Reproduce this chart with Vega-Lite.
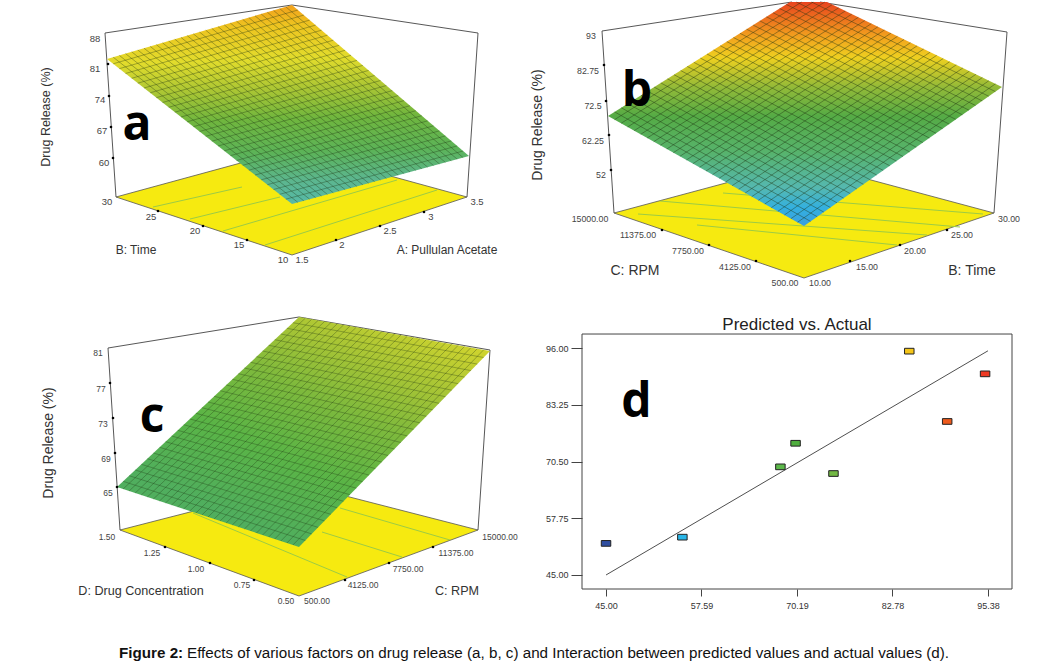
{
"$schema":"https://vega.github.io/schema/vega-lite/v6.json",
"padding":0,
"spacing":0,
"background":"white",
"config":{"view":{"stroke":null},"concat":{"spacing":0},"text":{"font":"Liberation Sans"},"title":{"font":"Liberation Sans"},"axis":{"labelFont":"Liberation Sans"}},
"vconcat":[
{"spacing":0,"hconcat":[
{"width":520,"height":313,"projection":{"type":"identity"},"layer":[
{"data":{"values":[{"type":"Feature","properties":{},"geometry":{"type":"Polygon","coordinates":[[[0,0],[520,0],[520,313],[0,313],[0,0]]]}}]},"mark":{"type":"geoshape","fill":"white","fillOpacity":0,"stroke":null}},
{"data":{"values":[{"type":"Feature","properties":{},"geometry":{"type":"Polygon","coordinates":[[[116,195],[292,147],[467,195],[292,253],[116,195]]]}}]},"mark":{"type":"geoshape","fill":"#f6ea10","stroke":"#555555","strokeWidth":0.8}},
{"data":{"values":[{"type":"Feature","properties":{},"geometry":{"type":"MultiLineString","coordinates":[[[153,205],[242,185]],[[190,217],[280,195]],[[223,229],[397,178]],[[265,243],[437,188]]]}}]},"mark":{"type":"geoshape","filled":false,"stroke":"#9ccb45","strokeWidth":1}},
{"data":{"values":[{"type":"Feature","properties":{},"geometry":{"type":"MultiLineString","coordinates":[[[116,195],[105,31],[292,3],[478,31],[467,195]]]}}]},"mark":{"type":"geoshape","filled":false,"stroke":"#444444","strokeWidth":0.9}},
{"data":{"values":[{"type":"Feature","properties":{},"geometry":{"type":"Polygon","coordinates":[[[107,57],[292,3],[469,154],[292,202],[107,57]]]}}]},"mark":{"type":"geoshape","stroke":null,"fill":{"gradient":"linear","x1":0.5,"y1":0,"x2":0.55,"y2":1,"stops":[{"offset":0,"color":"#f2a01c"},{"offset":0.1,"color":"#eec420"},{"offset":0.27,"color":"#e2dc2c"},{"offset":0.42,"color":"#abc634"},{"offset":0.57,"color":"#70b63e"},{"offset":0.74,"color":"#5cb358"},{"offset":0.88,"color":"#5cb68e"},{"offset":1,"color":"#56b9a8"}]}}},
{"data":{"values":[{"type":"Feature","properties":{"family":"time"},"geometry":{"type":"MultiLineString","coordinates":[[[113.2,61.8],[297.9,8]],[[119.3,66.7],[303.8,13.1]],[[125.5,71.5],[309.7,18.1]],[[131.7,76.3],[315.6,23.1]],[[137.8,81.2],[321.5,28.2]],[[144,86],[327.4,33.2]],[[150.2,90.8],[333.3,38.2]],[[156.3,95.7],[339.2,43.3]],[[162.5,100.5],[345.1,48.3]],[[168.7,105.3],[351,53.3]],[[174.8,110.2],[356.9,58.4]],[[181,115],[362.8,63.4]],[[187.2,119.8],[368.7,68.4]],[[193.3,124.7],[374.6,73.5]],[[199.5,129.5],[380.5,78.5]],[[205.7,134.3],[386.4,83.5]],[[211.8,139.2],[392.3,88.6]],[[218,144],[398.2,93.6]],[[224.2,148.8],[404.1,98.6]],[[230.3,153.7],[410,103.7]],[[236.5,158.5],[415.9,108.7]],[[242.7,163.3],[421.8,113.7]],[[248.8,168.2],[427.7,118.8]],[[255,173],[433.6,123.8]],[[261.2,177.8],[439.5,128.8]],[[267.3,182.7],[445.4,133.9]],[[273.5,187.5],[451.3,138.9]],[[279.7,192.3],[457.2,143.9]],[[285.8,197.2],[463.1,149]]]}},
{"type":"Feature","properties":{"family":"acetate"},"geometry":{"type":"MultiLineString","coordinates":[[[113.2,55.2],[297.9,200.4]],[[119.3,53.4],[303.8,198.8]],[[125.5,51.6],[309.7,197.2]],[[131.7,49.8],[315.6,195.6]],[[137.8,48],[321.5,194]],[[144,46.2],[327.4,192.4]],[[150.2,44.4],[333.3,190.8]],[[156.3,42.6],[339.2,189.2]],[[162.5,40.8],[345.1,187.6]],[[168.7,39],[351,186]],[[174.8,37.2],[356.9,184.4]],[[181,35.4],[362.8,182.8]],[[187.2,33.6],[368.7,181.2]],[[193.3,31.8],[374.6,179.6]],[[199.5,30],[380.5,178]],[[205.7,28.2],[386.4,176.4]],[[211.8,26.4],[392.3,174.8]],[[218,24.6],[398.2,173.2]],[[224.2,22.8],[404.1,171.6]],[[230.3,21],[410,170]],[[236.5,19.2],[415.9,168.4]],[[242.7,17.4],[421.8,166.8]],[[248.8,15.6],[427.7,165.2]],[[255,13.8],[433.6,163.6]],[[261.2,12],[439.5,162]],[[267.3,10.2],[445.4,160.4]],[[273.5,8.4],[451.3,158.8]],[[279.7,6.6],[457.2,157.2]],[[285.8,4.8],[463.1,155.6]]]}}]},"mark":{"type":"geoshape","filled":false,"stroke":"#1c3310","strokeOpacity":0.5,"strokeWidth":0.7}},
{"data":{"values":[{"lon":108,"lat":62},{"lon":109,"lat":94},{"lon":111,"lat":125},{"lon":113,"lat":156},{"lon":158,"lat":209},{"lon":203,"lat":224},{"lon":247,"lat":238},{"lon":424,"lat":210},{"lon":380,"lat":224},{"lon":336,"lat":238}]},"mark":{"type":"circle","color":"black","size":7,"opacity":1},"encoding":{"longitude":{"field":"lon","type":"quantitative"},"latitude":{"field":"lat","type":"quantitative"}}},
{"data":{"values":[{"lon":95,"lat":37,"t":"88"},{"lon":95,"lat":67,"t":"81"},{"lon":100,"lat":98,"t":"74"},{"lon":102,"lat":129,"t":"67"},{"lon":104,"lat":161,"t":"60"},{"lon":107,"lat":200,"t":"30"},{"lon":151,"lat":215,"t":"25"},{"lon":195,"lat":229,"t":"20"},{"lon":239,"lat":243,"t":"15"},{"lon":283,"lat":258,"t":"10"},{"lon":302,"lat":258,"t":"1.5"},{"lon":342,"lat":243,"t":"2"},{"lon":390,"lat":229,"t":"2.5"},{"lon":431,"lat":215,"t":"3"},{"lon":477,"lat":200,"t":"3.5"}]},"mark":{"type":"text","fontSize":9.5,"color":"#444444"},"encoding":{"longitude":{"field":"lon","type":"quantitative"},"latitude":{"field":"lat","type":"quantitative"},"text":{"field":"t"}}},
{"data":{"values":[{"lon":136,"lat":248,"t":"B: Time"},{"lon":447,"lat":248,"t":"A: Pullulan Acetate"}]},"mark":{"type":"text","fontSize":12,"color":"#333333"},"encoding":{"longitude":{"field":"lon","type":"quantitative"},"latitude":{"field":"lat","type":"quantitative"},"text":{"field":"t"}}},
{"data":{"values":[{"lon":46,"lat":115,"t":"Drug Release (%)"}]},"mark":{"type":"text","fontSize":12.5,"angle":270,"color":"#333333"},"encoding":{"longitude":{"field":"lon","type":"quantitative"},"latitude":{"field":"lat","type":"quantitative"},"text":{"field":"t"}}},
{"data":{"values":[{"lon":137,"lat":124,"t":"a"}]},"mark":{"type":"text","fontSize":48,"fontWeight":"bold","font":"Open Sans","color":"black"},"encoding":{"longitude":{"field":"lon","type":"quantitative"},"latitude":{"field":"lat","type":"quantitative"},"text":{"field":"t"}}}
]},
{"width":524,"height":313,"projection":{"type":"identity"},"layer":[
{"data":{"values":[{"type":"Feature","properties":{},"geometry":{"type":"Polygon","coordinates":[[[520,0],[1044,0],[1044,313],[520,313],[520,0]]]}}]},"mark":{"type":"geoshape","fill":"white","fillOpacity":0,"stroke":null}},
{"data":{"values":[{"type":"Feature","properties":{},"geometry":{"type":"Polygon","coordinates":[[[614,211],[804,160],[994,211],[804,276],[614,211]]]}}]},"mark":{"type":"geoshape","fill":"#f6ea10","stroke":"#555555","strokeWidth":0.8}},
{"data":{"values":[{"type":"Feature","properties":{},"geometry":{"type":"MultiLineString","coordinates":[[[723,191],[983,212]],[[660,199],[960,225]],[[638,212],[927,233]],[[697,223],[897,243]]]}}]},"mark":{"type":"geoshape","filled":false,"stroke":"#9ccb45","strokeWidth":1}},
{"data":{"values":[{"type":"Feature","properties":{},"geometry":{"type":"MultiLineString","coordinates":[[[614,211],[602,29],[792,0]],[[820,0],[1007,30],[994,211]]]}}]},"mark":{"type":"geoshape","filled":false,"stroke":"#444444","strokeWidth":0.9}},
{"data":{"values":[{"type":"Feature","properties":{},"geometry":{"type":"Polygon","coordinates":[[[608,114],[790,0],[827,0],[1002,85],[804,224],[608,114]]]}}]},"mark":{"type":"geoshape","stroke":null,"fill":{"gradient":"linear","x1":0.5,"y1":0,"x2":0.5,"y2":1,"stops":[{"offset":0,"color":"#e8441e"},{"offset":0.16,"color":"#f2a41e"},{"offset":0.25,"color":"#eed020"},{"offset":0.38,"color":"#93ba38"},{"offset":0.51,"color":"#55ab45"},{"offset":0.67,"color":"#57b36c"},{"offset":0.83,"color":"#55b8b0"},{"offset":0.92,"color":"#33b0e0"},{"offset":1,"color":"#3a9fe0"}]}}},
{"data":{"values":[{"type":"Feature","properties":{"family":"rpm"},"geometry":{"type":"MultiLineString","coordinates":[[[614.5,117.7],[801.7,0]],[[621.1,121.3],[813.2,0]],[[627.6,125],[824.8,0]],[[634.1,128.7],[832.1,2.7]],[[640.7,132.3],[838.7,5.8]],[[647.2,136],[845.2,9]],[[653.7,139.7],[851.7,12.2]],[[660.3,143.3],[858.3,15.3]],[[666.8,147],[864.8,18.5]],[[673.3,150.7],[871.3,21.7]],[[679.9,154.3],[877.9,24.8]],[[686.4,158],[884.4,28]],[[692.9,161.7],[890.9,31.2]],[[699.5,165.3],[897.5,34.3]],[[706,169],[904,37.5]],[[712.5,172.7],[910.5,40.7]],[[719.1,176.3],[917.1,43.8]],[[725.6,180],[923.6,47]],[[732.1,183.7],[930.1,50.2]],[[738.7,187.3],[936.7,53.3]],[[745.2,191],[943.2,56.5]],[[751.7,194.7],[949.7,59.7]],[[758.3,198.3],[956.3,62.8]],[[764.8,202],[962.8,66]],[[771.3,205.7],[969.3,69.2]],[[777.9,209.3],[975.9,72.3]],[[784.4,213],[982.4,75.5]],[[790.9,216.7],[988.9,78.7]],[[797.5,220.3],[995.5,81.8]]]}},
{"type":"Feature","properties":{"family":"time"},"geometry":{"type":"MultiLineString","coordinates":[[[614.6,109.9],[810.6,219.4]],[[621.2,105.7],[817.2,214.7]],[[627.8,101.6],[823.8,210.1]],[[634.4,97.5],[830.4,205.5]],[[641,93.3],[837,200.8]],[[647.6,89.2],[843.6,196.2]],[[654.2,85.1],[850.2,191.6]],[[660.8,80.9],[856.8,186.9]],[[667.4,76.8],[863.4,182.3]],[[674,72.7],[870,177.7]],[[680.6,68.5],[876.6,173]],[[687.2,64.4],[883.2,168.4]],[[693.8,60.3],[889.8,163.8]],[[700.4,56.1],[896.4,159.1]],[[707,52],[903,154.5]],[[713.6,47.9],[909.6,149.9]],[[720.2,43.7],[916.2,145.2]],[[726.8,39.6],[922.8,140.6]],[[733.4,35.5],[929.4,136]],[[740,31.3],[936,131.3]],[[746.6,27.2],[942.6,126.7]],[[753.2,23.1],[949.2,122.1]],[[759.8,18.9],[955.8,117.4]],[[766.4,14.8],[962.4,112.8]],[[773,10.7],[969,108.2]],[[779.6,6.5],[975.6,103.5]],[[786.2,2.4],[982.2,98.9]],[[796.3,0],[988.8,94.3]],[[811.5,0],[995.4,89.6]]]}}]},"mark":{"type":"geoshape","filled":false,"stroke":"#1c3310","strokeOpacity":0.6,"strokeWidth":0.7}},
{"data":{"values":[{"lon":604,"lat":63},{"lon":606,"lat":99},{"lon":609,"lat":133},{"lon":611,"lat":168},{"lon":662,"lat":228},{"lon":709,"lat":243},{"lon":756,"lat":259},{"lon":850,"lat":259},{"lon":900,"lat":243},{"lon":947,"lat":228}]},"mark":{"type":"circle","color":"black","size":7,"opacity":1},"encoding":{"longitude":{"field":"lon","type":"quantitative"},"latitude":{"field":"lat","type":"quantitative"}}},
{"data":{"values":[{"lon":591,"lat":34,"t":"93"},{"lon":588,"lat":69,"t":"82.75"},{"lon":593,"lat":104,"t":"72.5"},{"lon":593,"lat":139,"t":"62.25"},{"lon":601,"lat":173,"t":"52"},{"lon":590,"lat":217,"t":"15000.00"},{"lon":638,"lat":233,"t":"11375.00"},{"lon":688,"lat":249,"t":"7750.00"},{"lon":735,"lat":265,"t":"4125.00"},{"lon":785,"lat":281,"t":"500.00"},{"lon":820,"lat":281,"t":"10.00"},{"lon":867,"lat":265,"t":"15.00"},{"lon":915,"lat":249,"t":"20.00"},{"lon":962,"lat":233,"t":"25.00"},{"lon":1009,"lat":217,"t":"30.00"}]},"mark":{"type":"text","fontSize":8.8,"color":"#444444"},"encoding":{"longitude":{"field":"lon","type":"quantitative"},"latitude":{"field":"lat","type":"quantitative"},"text":{"field":"t"}}},
{"data":{"values":[{"lon":635,"lat":269,"t":"C: RPM"},{"lon":972,"lat":269,"t":"B: Time"}]},"mark":{"type":"text","fontSize":14,"color":"#333333"},"encoding":{"longitude":{"field":"lon","type":"quantitative"},"latitude":{"field":"lat","type":"quantitative"},"text":{"field":"t"}}},
{"data":{"values":[{"lon":538,"lat":123,"t":"Drug Release (%)"}]},"mark":{"type":"text","fontSize":14,"angle":270,"color":"#333333"},"encoding":{"longitude":{"field":"lon","type":"quantitative"},"latitude":{"field":"lat","type":"quantitative"},"text":{"field":"t"}}},
{"data":{"values":[{"lon":637,"lat":90,"t":"b"}]},"mark":{"type":"text","fontSize":48,"fontWeight":"bold","font":"Open Sans","color":"black"},"encoding":{"longitude":{"field":"lon","type":"quantitative"},"latitude":{"field":"lat","type":"quantitative"},"text":{"field":"t"}}}
]}
]},
{"spacing":25,"hconcat":[
{"width":520,"height":296,"projection":{"type":"identity"},"layer":[
{"data":{"values":[{"type":"Feature","properties":{},"geometry":{"type":"Polygon","coordinates":[[[0,316],[520,316],[520,612],[0,612],[0,316]]]}}]},"mark":{"type":"geoshape","fill":"white","fillOpacity":0,"stroke":null}},
{"data":{"values":[{"type":"Feature","properties":{},"geometry":{"type":"Polygon","coordinates":[[[120,530],[299,484],[478,530],[299,596],[120,530]]]}}]},"mark":{"type":"geoshape","fill":"#f6ea10","stroke":"#555555","strokeWidth":0.8}},
{"data":{"values":[{"type":"Feature","properties":{},"geometry":{"type":"MultiLineString","coordinates":[[[193,513],[347,577]],[[322,532],[402,557]],[[340,508],[450,540]]]}}]},"mark":{"type":"geoshape","filled":false,"stroke":"#9ccb45","strokeWidth":1}},
{"data":{"values":[{"type":"Feature","properties":{},"geometry":{"type":"MultiLineString","coordinates":[[[120,530],[108,348],[299,317],[490,350],[478,530]]]}}]},"mark":{"type":"geoshape","filled":false,"stroke":"#444444","strokeWidth":0.9}},
{"data":{"values":[{"type":"Feature","properties":{},"geometry":{"type":"Polygon","coordinates":[[[117,487],[299,317],[490,351],[299,547],[117,487]]]}}]},"mark":{"type":"geoshape","stroke":null,"fill":{"gradient":"linear","x1":0.488,"y1":1,"x2":1.071,"y2":0.2,"stops":[{"offset":0,"color":"#50ae5e"},{"offset":0.3,"color":"#5ab446"},{"offset":0.55,"color":"#7cb93d"},{"offset":0.75,"color":"#a2c336"},{"offset":1,"color":"#d0d42e"}]}}},
{"data":{"values":[{"type":"Feature","properties":{"family":"concentration"},"geometry":{"type":"MultiLineString","coordinates":[[[123.1,489],[305.4,318.1]],[[129.1,491],[311.7,319.3]],[[135.2,493],[318.1,320.4]],[[141.3,495],[324.5,321.5]],[[147.3,497],[330.8,322.7]],[[153.4,499],[337.2,323.8]],[[159.5,501],[343.6,324.9]],[[165.5,503],[349.9,326.1]],[[171.6,505],[356.3,327.2]],[[177.7,507],[362.7,328.3]],[[183.7,509],[369,329.5]],[[189.8,511],[375.4,330.6]],[[195.9,513],[381.8,331.7]],[[201.9,515],[388.1,332.9]],[[208,517],[394.5,334]],[[214.1,519],[400.9,335.1]],[[220.1,521],[407.2,336.3]],[[226.2,523],[413.6,337.4]],[[232.3,525],[420,338.5]],[[238.3,527],[426.3,339.7]],[[244.4,529],[432.7,340.8]],[[250.5,531],[439.1,341.9]],[[256.5,533],[445.4,343.1]],[[262.6,535],[451.8,344.2]],[[268.7,537],[458.2,345.3]],[[274.7,539],[464.5,346.5]],[[280.8,541],[470.9,347.6]],[[286.9,543],[477.3,348.7]],[[292.9,545],[483.6,349.9]]]}},
{"type":"Feature","properties":{"family":"rpm"},"geometry":{"type":"MultiLineString","coordinates":[[[123.1,481.3],[305.4,540.5]],[[129.1,475.7],[311.7,533.9]],[[135.2,470],[318.1,527.4]],[[141.3,464.3],[324.5,520.9]],[[147.3,458.7],[330.8,514.3]],[[153.4,453],[337.2,507.8]],[[159.5,447.3],[343.6,501.3]],[[165.5,441.7],[349.9,494.7]],[[171.6,436],[356.3,488.2]],[[177.7,430.3],[362.7,481.7]],[[183.7,424.7],[369,475.1]],[[189.8,419],[375.4,468.6]],[[195.9,413.3],[381.8,462.1]],[[201.9,407.7],[388.1,455.5]],[[208,402],[394.5,449]],[[214.1,396.3],[400.9,442.5]],[[220.1,390.7],[407.2,435.9]],[[226.2,385],[413.6,429.4]],[[232.3,379.3],[420,422.9]],[[238.3,373.7],[426.3,416.3]],[[244.4,368],[432.7,409.8]],[[250.5,362.3],[439.1,403.3]],[[256.5,356.7],[445.4,396.7]],[[262.6,351],[451.8,390.2]],[[268.7,345.3],[458.2,383.7]],[[274.7,339.7],[464.5,377.1]],[[280.8,334],[470.9,370.6]],[[286.9,328.3],[477.3,364.1]],[[292.9,322.7],[483.6,357.5]]]}}]},"mark":{"type":"geoshape","filled":false,"stroke":"#1c3310","strokeOpacity":0.45,"strokeWidth":0.7}},
{"data":{"values":[{"lon":110,"lat":383},{"lon":113,"lat":418},{"lon":115,"lat":453},{"lon":117,"lat":487},{"lon":165,"lat":547},{"lon":210,"lat":563},{"lon":254,"lat":580},{"lon":345,"lat":580},{"lon":389,"lat":563},{"lon":433,"lat":547}]},"mark":{"type":"circle","color":"black","size":7,"opacity":1},"encoding":{"longitude":{"field":"lon","type":"quantitative"},"latitude":{"field":"lat","type":"quantitative"}}},
{"data":{"values":[{"lon":98,"lat":353,"t":"81"},{"lon":101,"lat":389,"t":"77"},{"lon":103,"lat":424,"t":"73"},{"lon":106,"lat":459,"t":"69"},{"lon":108,"lat":493,"t":"65"},{"lon":107,"lat":537,"t":"1.50"},{"lon":152,"lat":553,"t":"1.25"},{"lon":196,"lat":569,"t":"1.00"},{"lon":242,"lat":585,"t":"0.75"},{"lon":286,"lat":601,"t":"0.50"},{"lon":317,"lat":601,"t":"500.00"},{"lon":363,"lat":585,"t":"4125.00"},{"lon":408,"lat":569,"t":"7750.00"},{"lon":456,"lat":553,"t":"11375.00"},{"lon":500,"lat":537,"t":"15000.00"}]},"mark":{"type":"text","fontSize":8.5,"color":"#444444"},"encoding":{"longitude":{"field":"lon","type":"quantitative"},"latitude":{"field":"lat","type":"quantitative"},"text":{"field":"t"}}},
{"data":{"values":[{"lon":141,"lat":591,"t":"D: Drug Concentration"},{"lon":457,"lat":591,"t":"C: RPM"}]},"mark":{"type":"text","fontSize":12.6,"color":"#333333"},"encoding":{"longitude":{"field":"lon","type":"quantitative"},"latitude":{"field":"lat","type":"quantitative"},"text":{"field":"t"}}},
{"data":{"values":[{"lon":49,"lat":443,"t":"Drug Release (%)"}]},"mark":{"type":"text","fontSize":14,"angle":270,"color":"#333333"},"encoding":{"longitude":{"field":"lon","type":"quantitative"},"latitude":{"field":"lat","type":"quantitative"},"text":{"field":"t"}}},
{"data":{"values":[{"lon":152,"lat":418,"t":"c"}]},"mark":{"type":"text","fontSize":48,"fontWeight":"bold","font":"Open Sans","color":"black"},"encoding":{"longitude":{"field":"lon","type":"quantitative"},"latitude":{"field":"lat","type":"quantitative"},"text":{"field":"t"}}}
]},
{"width":430,"height":273,"layer":[
{"data":{"values":[{"actual":41.83,"actual2":98.55,"predicted":41.85,"predicted2":99.15}]},"mark":{"type":"rect","fill":null,"stroke":"#444444","strokeWidth":1},"encoding":{"x":{"field":"actual","type":"quantitative"},"x2":{"field":"actual2"},"y":{"field":"predicted","type":"quantitative"},"y2":{"field":"predicted2"}}},
{"data":{"values":[{"actual":45,"predicted":45},{"actual":95.38,"predicted":95.38}]},"mark":{"type":"line","color":"#222222","strokeWidth":0.8},"encoding":{"x":{"field":"actual","type":"quantitative","scale":{"domain":[41.83,98.55],"nice":false,"zero":false},"axis":{"title":null,"grid":false,"domain":false,"values":[45,57.59,70.19,82.78,95.38],"format":".2f","tickSize":7,"tickColor":"#444444","labelFontSize":9,"labelColor":"#333333","labelPadding":5}},"y":{"field":"predicted","type":"quantitative","scale":{"domain":[41.85,103.2],"nice":false,"zero":false},"axis":{"title":null,"grid":false,"domain":false,"values":[45,57.75,70.5,83.25,96],"format":".2f","tickSize":11,"tickColor":"#444444","labelFontSize":9,"labelColor":"#333333","labelPadding":3}}}},
{"data":{"values":[{"actual":45,"predicted":52.1},{"actual":55.07,"predicted":53.5},{"actual":68,"predicted":69.3},{"actual":70,"predicted":74.6},{"actual":75,"predicted":67.8},{"actual":85,"predicted":95.3},{"actual":90,"predicted":79.5},{"actual":95,"predicted":90.2}]},"mark":{"type":"point","filled":true,"shape":"M-1,-0.6H1V0.6H-1Z","size":90,"opacity":1,"stroke":"#222222","strokeWidth":1},"encoding":{"x":{"field":"actual","type":"quantitative"},"y":{"field":"predicted","type":"quantitative"},"fill":{"field":"actual","type":"quantitative","legend":null,"scale":{"domain":[45,55.07,68,70,75,85,90,95],"range":["#2f4ea0","#29b6e8","#5cb84a","#4fae3e","#72b843","#f5c518","#ee5a1c","#ee3a24"]}}}},
{"data":{"values":[{"actual":49,"predicted":83.6,"t":"d"}]},"mark":{"type":"text","fontSize":48,"fontWeight":"bold","font":"Open Sans","color":"black"},"encoding":{"x":{"field":"actual","type":"quantitative"},"y":{"field":"predicted","type":"quantitative"},"text":{"field":"t"}}},
{"data":{"values":[{"actual":70.19,"predicted":101.2,"t":"Predicted vs. Actual"}]},"mark":{"type":"text","fontSize":17,"color":"#222222"},"encoding":{"x":{"field":"actual","type":"quantitative"},"y":{"field":"predicted","type":"quantitative"},"text":{"field":"t"}}}
]}
]},
{"width":1044,"height":54,"data":{"values":[{"pos":119,"line":653,"t":"Figure 2:","part":"label"},{"pos":187,"line":653,"t":"Effects of various factors on drug release (a, b, c) and Interaction between predicted values and actual values (d).","part":"body"}]},
"encoding":{"x":{"field":"pos","type":"quantitative","scale":{"domain":[0,1044],"nice":false},"axis":null},"y":{"field":"line","type":"quantitative","scale":{"domain":[666,612],"nice":false,"zero":false},"axis":null},"text":{"field":"t"}},
"layer":[
{"transform":[{"filter":"datum.part === 'label'"}],"mark":{"type":"text","align":"left","fontSize":15.2,"fontWeight":"bold","color":"#111111"}},
{"transform":[{"filter":"datum.part === 'body'"}],"mark":{"type":"text","align":"left","fontSize":15.2,"color":"#111111"}}
]}
]}
